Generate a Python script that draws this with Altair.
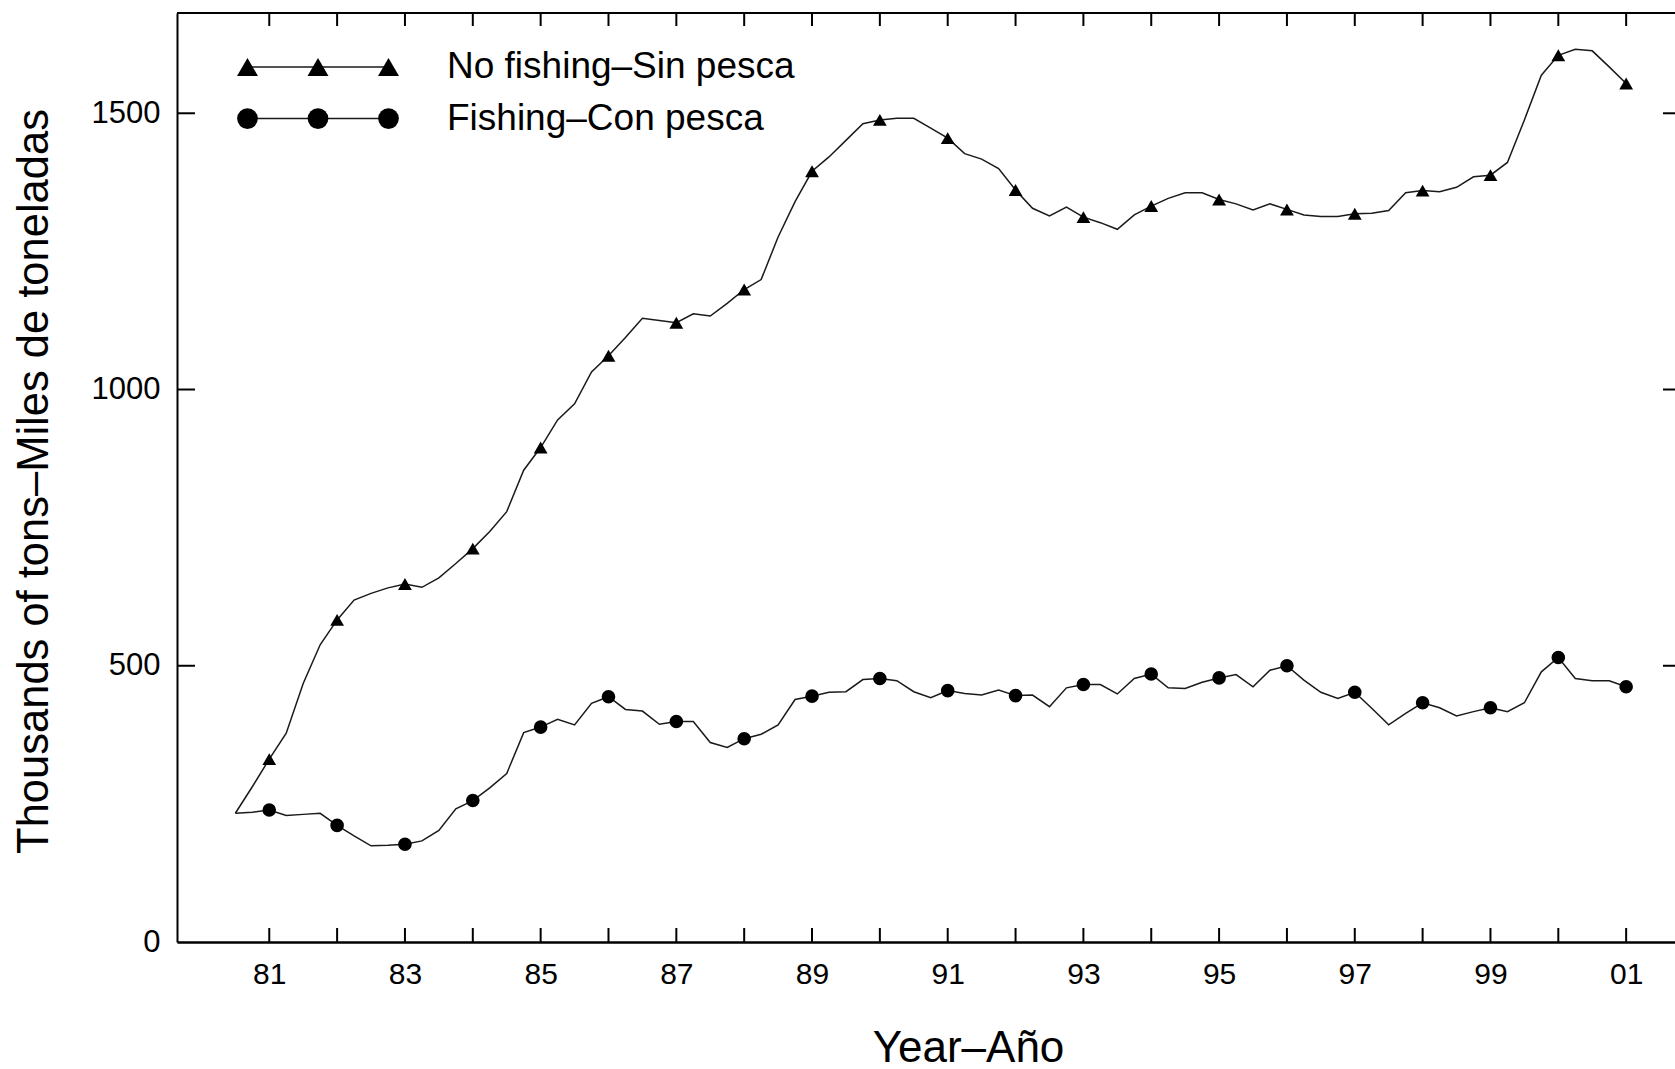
import altair as alt
import pandas as pd

# Quarterly biomass estimates (thousands of tons), mid-1980 to start of 2001
quarters = [1980.5 + 0.25 * i for i in range(83)]

no_fishing = [
    233, 281, 331, 378, 468, 538, 583, 619, 631, 641, 648, 642, 659, 685, 712,
    743, 779, 854, 895, 945, 974, 1032, 1061, 1094, 1129, 1125, 1121, 1137, 1133,
    1156, 1181, 1199, 1276, 1340, 1395, 1421, 1451, 1481, 1488, 1491, 1491, 1473,
    1455, 1427, 1417, 1400, 1361, 1328, 1314, 1330, 1312, 1302, 1290, 1316, 1332,
    1346, 1356, 1356, 1344, 1336, 1325, 1336, 1326, 1316, 1313, 1313, 1318, 1319,
    1324, 1356, 1360, 1358, 1366, 1385, 1388, 1411, 1488, 1569, 1605, 1616, 1613,
    1584, 1554,
]

fishing = [
    233, 235, 239, 229, 231, 233, 211, 192, 174, 175, 177, 183, 202, 241, 256,
    279, 305, 379, 389, 403, 393, 432, 444, 421, 418, 394, 399, 399, 361, 352,
    368, 376, 393, 439, 445, 452, 453, 475, 477, 473, 453, 442, 455, 450, 447,
    456, 446, 447, 426, 460, 466, 466, 449, 477, 485, 460, 459, 470, 478, 484,
    462, 492, 500, 474, 452, 441, 452, 423, 393, 414, 433, 424, 409, 417, 424,
    417, 433, 489, 515, 477, 473, 473, 462,
]

series_names = ["No fishing–Sin pesca", "Fishing–Con pesca"]
tick_years = list(range(1981, 2002))
label_years = list(range(1981, 2002, 2))
y_label_values = [0, 500, 1000, 1500]
y_tick_values = [500, 1000, 1500]

FONT = "Liberation Sans"
INK = "#000000"
LINE = "#1a1a1a"
W, H = 1498, 929

df = pd.DataFrame({
    "year": quarters * 2,
    "biomass": no_fishing + fishing,
    "series": [series_names[0]] * len(quarters) + [series_names[1]] * len(quarters),
})

xscale = alt.Scale(domain=[1979.64, 2001.72], nice=False, zero=False)
yscale = alt.Scale(domain=[0, 1681.5], nice=False, zero=False)

x_axis = alt.Axis(
    values=label_years, labelExpr="substring(toString(datum.value), 2)",
    ticks=False, grid=False, domainColor=INK, domainWidth=2.5,
    labelFont=FONT, labelFontSize=30, labelColor=INK, labelPadding=17,
    labelFlush=False, title="Year–Año", titleFont=FONT, titleFontSize=44,
    titleFontWeight="normal", titleColor=INK, titleX=791, titleY=119,
    titleBaseline="alphabetic", titleAlign="center",
)
y_axis = alt.Axis(
    values=y_label_values, format="d", ticks=False, grid=False,
    domainColor=INK, domainWidth=2, labelFont=FONT, labelFontSize=31,
    labelColor=INK, labelPadding=17, labelFlush=False,
    title="Thousands of tons–Miles de toneladas", titleFont=FONT,
    titleFontSize=43.5, titleFontWeight="normal", titleColor=INK,
    titleX=-143, titleY=468, titleBaseline="middle", titleAlign="center",
)


def X():
    return alt.X("year:Q", scale=xscale, axis=x_axis)


def Y():
    return alt.Y("biomass:Q", scale=yscale, axis=y_axis)


lines = alt.Chart(df).mark_line(color=LINE, strokeWidth=1.5).encode(
    x=X(), y=Y(), detail="series:N",
)

markers = alt.Chart(df).transform_filter("datum.year % 1 == 0").mark_point(
    filled=True, opacity=1, color=INK
).encode(
    x=X(), y=Y(),
    shape=alt.Shape("series:N", scale=alt.Scale(domain=series_names,
                    range=["triangle-up", "circle"]), legend=None),
    size=alt.Size("series:N", scale=alt.Scale(domain=series_names,
                  range=[190, 185]), legend=None),
)

# Inward-pointing ticks on all four sides of the frame
xt = pd.DataFrame({"year": tick_years})
yt = pd.DataFrame({"biomass": y_tick_values})
bottom_ticks = alt.Chart(xt).mark_rule(color=INK, strokeWidth=2).encode(
    x=X(), y=alt.value(H), y2=alt.value(H - 14))
top_ticks = alt.Chart(xt).mark_rule(color=INK, strokeWidth=2).encode(
    x=X(), y=alt.value(0), y2=alt.value(13))
left_ticks = alt.Chart(yt).mark_rule(color=INK, strokeWidth=2).encode(
    y=Y(), x=alt.value(0), x2=alt.value(18))
right_ticks = alt.Chart(yt).mark_rule(color=INK, strokeWidth=2).encode(
    y=Y(), x=alt.value(W - 12), x2=alt.value(W))

one = alt.Data(values=[{}])
top_frame = alt.Chart(one).mark_rule(color=INK, strokeWidth=2).encode(
    x=alt.value(0), x2=alt.value(W), y=alt.value(0))

# Legend in the upper-left corner
LEG_X = [70.5, 141, 211.5]
LEG_TX = 270


def legend_row(label, shape, size, ypx):
    layers = [alt.Chart(one).mark_rule(color=LINE, strokeWidth=1.5).encode(
        x=alt.value(LEG_X[0]), x2=alt.value(LEG_X[-1]), y=alt.value(ypx))]
    for px in LEG_X:
        layers.append(alt.Chart(one).mark_point(
            shape=shape, filled=True, opacity=1, color=INK, size=size
        ).encode(x=alt.value(px), y=alt.value(ypx)))
    layers.append(alt.Chart(one).mark_text(
        text=label, align="left", baseline="middle", font=FONT, fontSize=37,
        color=INK
    ).encode(x=alt.value(LEG_TX), y=alt.value(ypx)))
    return layers


legend = legend_row(series_names[0], "triangle-up", 440, 54) + \
    legend_row(series_names[1], "circle", 430, 105.6)

chart = alt.layer(
    lines, markers, bottom_ticks, top_ticks, left_ticks, right_ticks,
    top_frame, *legend
).properties(
    width=W, height=H,
    autosize=alt.AutoSizeParams(type="none"),
    padding={"left": 177, "top": 13, "right": 0, "bottom": 127},
    background="white",
).configure_view(stroke=None)

chart.save("out.html", embed_options={"renderer": "svg", "actions": False})
